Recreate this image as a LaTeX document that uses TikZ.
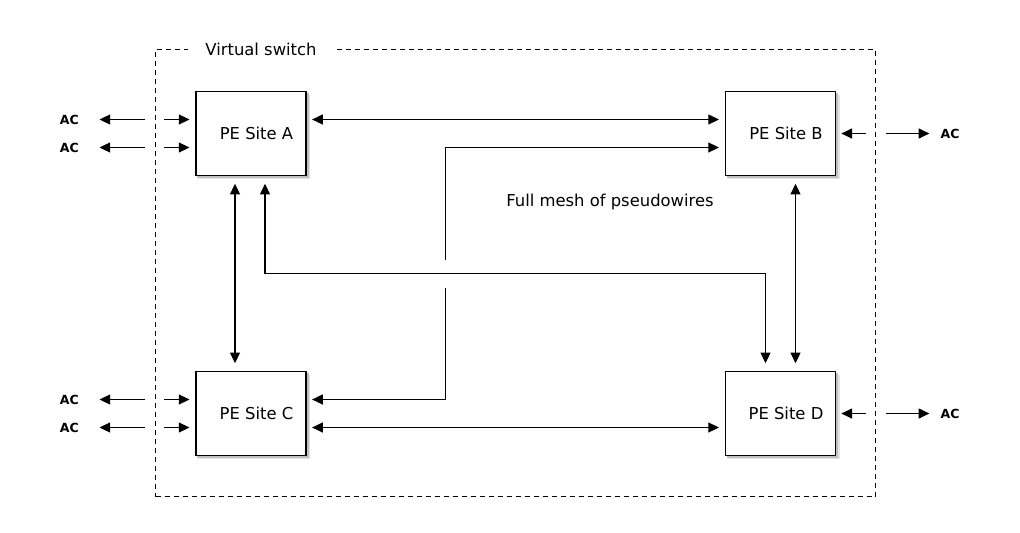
\documentclass[tikz,border=0pt]{standalone}
\usepackage{fontspec}
\setmainfont{DejaVu Sans}
\usetikzlibrary{arrows.meta,calc,backgrounds}
\begin{document}
\begin{tikzpicture}[x=0.75pt,y=-0.75pt,
  >={Triangle[length=8pt,width=7.5pt]},
  conn/.style={line width=0.8pt, draw=black},
  pebox/.style={draw, line width=0.8pt, fill=white, minimum width=82.5pt, minimum height=62.6pt, inner sep=0pt},
  petext/.style={inner sep=0pt, font=\fontsize{12.3pt}{14pt}\selectfont},
  actext/.style={inner sep=0pt, font=\bfseries\fontsize{9.4pt}{10pt}\selectfont},
  frame/.style={draw, line width=0.75pt, dash pattern=on 3.75pt off 3pt, minimum width=540pt, minimum height=335.6pt, inner sep=0pt},
  titletext/.style={fill=white, inner xsep=13pt, inner ysep=2pt, font=\fontsize{12.3pt}{14pt}\selectfont}
]
% frame
\node[frame] (vs) at (515.5,273.25) {};
\node[titletext] (title) at (261,49.5) {Virtual switch};

% PE boxes
\node[pebox] (A) at (251,133.5) {};
\node[pebox] (B) at (780.5,133.5) {};
\node[pebox] (C) at (251,413.5) {};
\node[pebox] (D) at (780.5,413.5) {};
\node[petext] (At) at ($(A)+(5.5,0)$) {PE Site A};
\node[petext] (Bt) at ($(B)+(5.5,0)$) {PE Site B};
\node[petext] (Ct) at ($(C)+(5.5,0)$) {PE Site C};
\node[petext] (Dt) at ($(D)+(5.5,0)$) {PE Site D};

\begin{scope}[on background layer]
  \fill[white] (0,0) rectangle (1020,532);
  \foreach \bx in {A,B,C,D}{
    \fill[black!10] ($(\bx.north west)+(3.5,3.5)$) rectangle ($(\bx.south east)+(3.5,3.5)$);
    \fill[black!25] ($(\bx.north west)+(2,2)$) rectangle ($(\bx.south east)+(2,2)$);
  }
\end{scope}

\node[petext] (mesh) at (610,202) {Full mesh of pseudowires};

% crossing point
\coordinate (k) at (445.5,273.5);

% A - B
\draw[conn,<->,shorten <=4.2pt,shorten >=4.5pt] ($(A.east)+(0,-14)$) -- ($(B.west)+(0,-14)$);
% C - D
\draw[conn,<->,shorten <=4.2pt,shorten >=4.5pt] ($(C.east)+(0,14)$) -- ($(D.west)+(0,14)$);
% A - C
\draw[conn,<->,shorten <=6pt,shorten >=6pt] ($(A.south)+(-16,0)$) -- ($(C.north)+(-16,0)$);
% B - D
\draw[conn,<->,shorten <=6pt,shorten >=6pt] ($(B.south)+(15,0)$) -- ($(D.north)+(15,0)$);
% A - D
\draw[conn,<->,shorten <=6pt,shorten >=6pt] ($(A.south)+(14,0)$) |- (k) -| ($(D.north)+(-15,0)$);
% C - B (broken at crossing)
\draw[conn,<-,shorten <=4.2pt] ($(C.east)+(0,-14)$) -| ($(k)+(0,14)$);
\draw[conn,->,shorten >=4.5pt] ($(k)+(0,-14)$) |- ($(B.west)+(0,14)$);

% left attachment circuits
\foreach \bx/\nm in {A/a, C/c}{
  \foreach \dy/\i in {-14/1, 14/2}{
    \coordinate (p\nm\i) at ($(\bx.west)+(-50,\dy)$);
    \coordinate (q\nm\i) at ($(\bx.west)+(-31,\dy)$);
    \node[actext, anchor=east] (ac\nm\i) at ($(p\nm\i)+(-66.5,0)$) {AC};
    \draw[conn,->,shorten >=15.4pt] (p\nm\i) -- (ac\nm\i.east);
    \draw[conn,->,shorten >=4.5pt] (q\nm\i) -- (\bx.west |- q\nm\i);
  }
}

% right attachment circuits
\foreach \bx/\nm in {B/b, D/d}{
  \coordinate (p\nm) at ($(\bx.east)+(29.75,0)$);
  \coordinate (q\nm) at ($(\bx.east)+(49.75,0)$);
  \node[actext, anchor=west] (ac\nm) at ($(q\nm)+(54.5,0)$) {AC};
  \draw[conn,->,shorten >=4pt] (p\nm) -- (\bx.east |- p\nm);
  \draw[conn,->,shorten >=8.2pt] (q\nm) -- (ac\nm.west);
}
\useasboundingbox (0,0) rectangle (1020,532);
\end{tikzpicture}
\end{document}
